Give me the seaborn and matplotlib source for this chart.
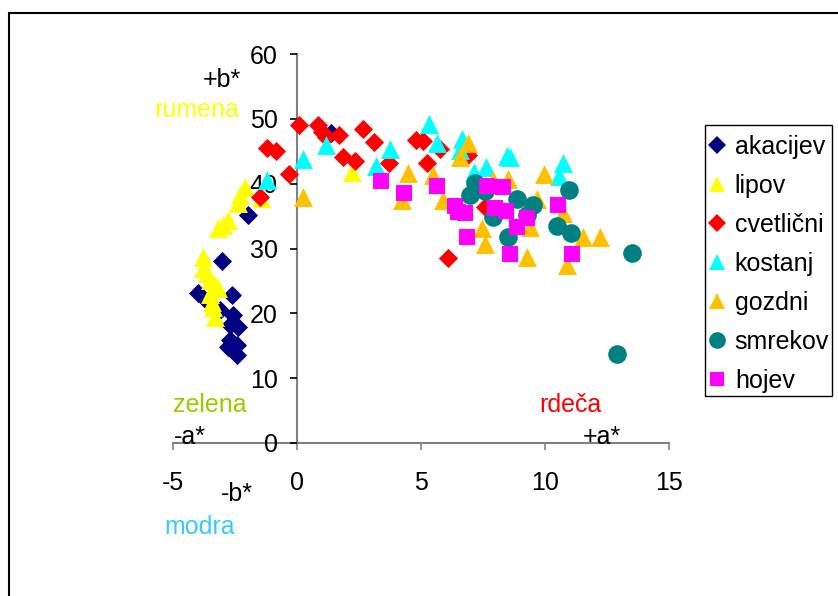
import matplotlib
matplotlib.use("Agg")
import matplotlib.pyplot as plt
from matplotlib.patches import Rectangle
from matplotlib.lines import Line2D
import seaborn as sns
import pandas as pd

# ---------------- data ----------------
series_names = ["akacijev", "lipov", "cvetlični", "kostanj", "gozdni", "smrekov", "hojev"]

akacijev_a = [1.37, -1.98, -3.02, -3.99, -2.62, -3.59, -2.58, -2.38, -2.70, -2.70, -2.42, -2.42, -2.80, -3.10]
akacijev_b = [47.8, 35.2, 28.1, 23.1, 22.8, 21.8, 19.8, 17.9, 18.2, 15.9, 15.1, 13.6, 14.8, 20.5]

lipov_a = [-2.10, -2.30, -2.38, -2.78, -3.19, -3.00, -3.79, -3.79, -3.63, -3.50, -3.30, -3.19, -3.43, -3.39, -3.30, -1.45, 2.20, -3.50]
lipov_b = [39.5, 38.3, 37.0, 34.4, 33.2, 33.6, 28.7, 27.0, 26.2, 25.2, 24.4, 23.9, 21.8, 21.0, 19.4, 37.8, 41.8, 23.0]

cvetlicni_a = [0.08, 0.85, 1.00, 1.17, 1.69, 2.66, 3.10, 1.85, 2.34, 3.71, 4.80, 5.08, 5.77, 5.24, -1.21, -0.85, -0.32, -1.49, 6.90, 6.09, 7.60]
cvetlicni_b = [49.1, 49.1, 48.0, 47.2, 47.5, 48.5, 46.5, 44.1, 43.5, 43.2, 46.8, 46.6, 45.4, 43.2, 45.5, 45.1, 41.5, 38.0, 44.4, 28.5, 36.4]

kostanj_a = [0.24, 1.17, 3.19, 3.75, 5.32, 5.64, -1.20, 6.65, 6.57, 7.62, 7.14, 8.47, 8.59, 10.73, 10.56]
kostanj_b = [43.8, 46.0, 42.7, 45.4, 49.2, 46.3, 40.6, 46.9, 45.2, 42.6, 41.8, 44.3, 44.1, 43.2, 41.2]

gozdni_a = [0.24, 4.48, 4.23, 5.48, 5.89, 6.57, 6.90, 8.50, 9.68, 9.96, 7.46, 7.58, 9.40, 11.53, 12.22, 9.27, 10.89, 10.73, 7.90]
gozdni_b = [38.0, 41.7, 37.5, 41.4, 37.5, 44.1, 46.3, 40.7, 37.7, 41.5, 33.2, 30.7, 33.3, 31.8, 31.8, 28.7, 27.5, 35.5, 40.5]

smrekov_a = [7.18, 6.98, 7.60, 8.87, 9.52, 9.27, 7.90, 8.51, 10.97, 10.48, 11.05, 13.51, 12.90]
smrekov_b = [40.1, 38.3, 38.8, 37.6, 36.7, 35.2, 34.9, 31.8, 39.0, 33.5, 32.4, 29.3, 13.7]

hojev_a = [3.39, 4.31, 5.65, 6.37, 6.77, 6.49, 6.85, 7.66, 8.31, 7.98, 8.43, 9.27, 8.87, 10.52, 8.59, 11.09]
hojev_b = [40.4, 38.6, 39.7, 36.6, 35.5, 35.6, 31.8, 39.7, 39.5, 36.3, 35.8, 34.7, 33.3, 36.7, 29.2, 29.2]

x_ticks = [-5, 0, 5, 10, 15]
y_ticks = [0, 10, 20, 30, 40, 50, 60]

# ---------------- styles ----------------
colors = {"akacijev": "#000080", "lipov": "#FFFF00", "cvetlični": "#FF0000",
          "kostanj": "#00FFFF", "gozdni": "#FFC000", "smrekov": "#008080", "hojev": "#FF00FF"}
markers = {"akacijev": "D", "lipov": "^", "cvetlični": "D", "kostanj": "^",
           "gozdni": "^", "smrekov": "o", "hojev": "s"}
sizes = {"akacijev": 95, "lipov": 185, "cvetlični": 95, "kostanj": 185,
         "gozdni": 185, "smrekov": 180, "hojev": 120}

all_a = [akacijev_a, lipov_a, cvetlicni_a, kostanj_a, gozdni_a, smrekov_a, hojev_a]
all_b = [akacijev_b, lipov_b, cvetlicni_b, kostanj_b, gozdni_b, smrekov_b, hojev_b]
rows = []
for name, aa, bb in zip(series_names, all_a, all_b):
    for x, y in zip(aa, bb):
        rows.append({"a": x, "b": y, "vrsta": name})
df = pd.DataFrame(rows)

sns.set_style("white")
plt.rcParams["font.family"] = ["Liberation Sans", "DejaVu Sans"]
plt.rcParams["axes.unicode_minus"] = False
plt.rcParams["text.color"] = "black"

FS = 18
W, H = 838, 596
fig = plt.figure(figsize=(W / 100, H / 100), dpi=100)
ax = fig.add_axes([173 / W, 1 - 443 / H, 496 / W, 389 / H])

for name in series_names:
    sub = df[df["vrsta"] == name]
    sns.scatterplot(data=sub, x="a", y="b", color=colors[name], marker=markers[name],
                    s=sizes[name], linewidth=0, ax=ax, legend=False, zorder=1)

ax.set_xlim(-5, 15)
ax.set_ylim(0, 60)
ax.set_xticks(x_ticks)
ax.set_yticks(y_ticks)
ax.set_xlabel("")
ax.set_ylabel("")
ax.grid(False)
ax.patch.set_alpha(0)

for s in ["top", "right"]:
    ax.spines[s].set_visible(False)
ax.spines["left"].set_position(("data", 0))
ax.spines["bottom"].set_position(("data", 0))
for s in ["left", "bottom"]:
    ax.spines[s].set_color("#808080")
    ax.spines[s].set_linewidth(1.5)
    ax.spines[s].set_zorder(0.5)

ax.tick_params(axis="y", direction="out", length=5, width=1.2, color="black",
               labelcolor="black", pad=9, labelsize=FS, left=True)
ax.tick_params(axis="x", direction="out", length=5, width=1.2, color="#808080",
               labelcolor="black", pad=15, labelsize=FS, bottom=True)

# legend (content) + its frame
handles = [Line2D([0], [0], linestyle="none", marker=markers[n], color=colors[n],
                  markersize=9.5 if markers[n] in ("D", "s") else 12, markeredgewidth=0)
           for n in series_names]
leg = fig.legend(handles, series_names, loc="upper left",
                 bbox_to_anchor=(708 / W, 1 - 135 / H), frameon=False,
                 fontsize=FS, handlelength=0.75, handletextpad=0.32,
                 labelspacing=0.6, borderpad=0, borderaxespad=0)
fig.patches.append(Rectangle((704.5 / W, 1 - 395.5 / H), 127 / W, 270 / H,
                             transform=fig.transFigure, fill=False, edgecolor="black",
                             linewidth=1.0))

# annotation texts
annot = [("+b*", 222, 80, "black"), ("rumena", 197, 110, "#FFFF00"),
         ("zelena", 210, 405, "#99CC00"), ("-a*", 190, 437, "black"),
         ("rdeča", 570, 405, "#FF0000"), ("+a*", 602, 437, "black"),
         ("-b*", 237, 494, "black"), ("modra", 200, 527, "#33CCFF")]
for txt, px, py, c in annot:
    fig.text(px / W, 1 - py / H, txt, color=c, fontsize=FS, ha="center", va="center")

# outer chart border
fig.patches.append(Rectangle((8.5 / W, -0.1), 1.2, 1.1 - 12.5 / H, transform=fig.transFigure,
                             fill=False, edgecolor="black", linewidth=1.5, clip_on=False))

fig.savefig("out.png", dpi=100)
